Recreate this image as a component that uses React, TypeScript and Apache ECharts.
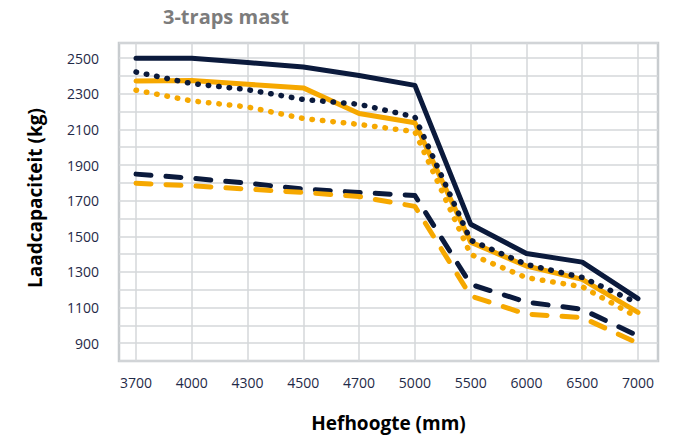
import React, { useEffect, useRef } from "react";
import * as echarts from "echarts";

const categories = ["3700", "4000", "4300", "4500", "4700", "5000", "5500", "6000", "6500", "7000"];
const navySolid = [2500, 2500, 2475, 2450, 2403, 2347, 1568, 1403, 1355, 1150];
const navyDotted = [2422, 2357, 2323, 2268, 2241, 2170, 1478, 1342, 1269, 1125];
const orangeSolid = [2372, 2375, 2353, 2333, 2189, 2137, 1467, 1333, 1258, 1073];
const orangeDotted = [2320, 2260, 2226, 2161, 2128, 2087, 1398, 1268, 1217, 1044];
const navyDashed = [1849, 1826, 1798, 1765, 1746, 1729, 1230, 1131, 1090, 941];
const orangeDashed = [1798, 1783, 1765, 1746, 1723, 1668, 1165, 1063, 1044, 900];
const yTickLabels = [900, 1100, 1300, 1500, 1700, 1900, 2100, 2300, 2500];

const NAVY = "#0b1a3c";
const ORANGE = "#f6a800";
const FONT = "'Open Sans', 'Noto Sans', sans-serif";

export default function App() {
  const ref = useRef<HTMLDivElement>(null);

  useEffect(() => {
    if (!ref.current) return;
    const chart = echarts.init(ref.current, null, { renderer: "svg" });
    const idx = categories.map((_, i) => i);
    const toData = (arr: number[]) => arr.map((v, i) => [i, v]);
    const mk = (name: string, arr: number[], color: string, type: any, width: number) => ({
      name,
      type: "line",
      data: toData(arr),
      showSymbol: false,
      symbol: "none",
      lineStyle: { color, width, type, cap: "round", join: "round" },
      z: 3,
    });

    chart.setOption({
      animation: false,
      title: {
        text: "3-traps mast",
        left: 158,
        top: 1,
        textStyle: { color: "#7c7c7c", fontSize: 20, fontWeight: "bold", fontFamily: FONT },
      },
      graphic: [
        {
          type: "text",
          x: 35,
          y: 198,
          rotation: Math.PI / 2,
          style: {
            text: "Laadcapaciteit (kg)",
            fill: "#000",
            font: `bold 19px ${FONT}`,
            align: "center",
            verticalAlign: "middle",
          },
        },
      ],
      grid: {
        left: 119,
        right: 32,
        top: 43,
        bottom: 77,
        show: true,
        borderColor: "#c8cccf",
        borderWidth: 2.5,
      },
      xAxis: {
        type: "value",
        min: -0.305,
        max: 9.359,
        name: "Hefhoogte (mm)",
        nameLocation: "middle",
        nameGap: 52,
        nameTextStyle: { color: "#000", fontSize: 19, fontWeight: "bold", fontFamily: FONT },
        axisLine: { show: false },
        axisTick: { show: false, customValues: idx },
        axisLabel: {
          customValues: idx,
          formatter: (v: number) => categories[Math.round(v)] ?? "",
          color: "#1f2a48",
          fontSize: 14,
          margin: 14,
          fontFamily: FONT,
        },
        splitLine: { show: true, lineStyle: { color: "#d4d7da", width: 1.5 } },
      },
      yAxis: {
        type: "value",
        min: 800,
        max: 2585,
        interval: 100,
        axisLine: { show: false },
        axisTick: { show: false },
        axisLabel: {
          formatter: (v: number) => (yTickLabels.includes(v) ? String(v) : ""),
          color: "#1f2a48",
          fontSize: 14,
          margin: 20,
          fontFamily: FONT,
        },
        splitLine: { show: true, lineStyle: { color: "#d4d7da", width: 1.5 } },
      },
      series: [
        mk("navy dashed", navyDashed, NAVY, [15, 15], 5),
        mk("orange dashed", orangeDashed, ORANGE, [15, 15], 5),
        mk("orange dotted", orangeDotted, ORANGE, [0.5, 10], 5.5),
        mk("orange solid", orangeSolid, ORANGE, "solid", 5),
        mk("navy dotted", navyDotted, NAVY, [0.5, 10], 5.5),
        mk("navy solid", navySolid, NAVY, "solid", 5),
      ],
    });
    return () => chart.dispose();
  }, []);

  return (
    <div
      ref={ref}
      style={{ position: "fixed", left: 0, top: 0, width: 690, height: 438, background: "#fff" }}
    />
  );
}
